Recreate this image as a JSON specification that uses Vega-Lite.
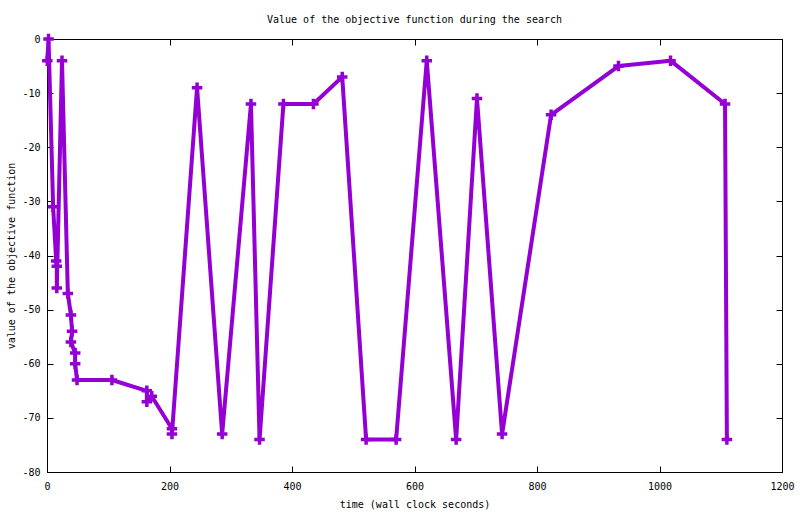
{
  "$schema": "https://vega.github.io/schema/vega-lite/v6.json",
  "width": 735,
  "height": 433,
  "autosize": {"type": "none"},
  "padding": {"left": 47, "top": 39, "right": 18, "bottom": 42},
  "background": "white",
  "title": {
    "text": "Value of the objective function during the search",
    "font": "DejaVu Sans Mono",
    "fontSize": 10,
    "fontWeight": "normal",
    "color": "black",
    "offset": 2
  },
  "data": {
    "values": [
      {"i": 1, "t": 0.5, "v": -4},
      {"i": 2, "t": 2.5, "v": 0},
      {"i": 3, "t": 10, "v": -31},
      {"i": 4, "t": 15, "v": -41},
      {"i": 5, "t": 16, "v": -42},
      {"i": 6, "t": 16, "v": -46},
      {"i": 7, "t": 24.5, "v": -4},
      {"i": 8, "t": 34, "v": -47},
      {"i": 9, "t": 39, "v": -51},
      {"i": 10, "t": 41, "v": -54},
      {"i": 11, "t": 39, "v": -56},
      {"i": 12, "t": 46, "v": -58},
      {"i": 13, "t": 46, "v": -60},
      {"i": 14, "t": 49, "v": -63},
      {"i": 15, "t": 106, "v": -63},
      {"i": 16, "t": 163, "v": -65},
      {"i": 17, "t": 163, "v": -67},
      {"i": 18, "t": 171, "v": -66},
      {"i": 19, "t": 204, "v": -72},
      {"i": 20, "t": 204, "v": -73},
      {"i": 21, "t": 245, "v": -9},
      {"i": 22, "t": 286, "v": -73},
      {"i": 23, "t": 333, "v": -12},
      {"i": 24, "t": 347, "v": -74},
      {"i": 25, "t": 386, "v": -12},
      {"i": 26, "t": 435, "v": -12},
      {"i": 27, "t": 482, "v": -7},
      {"i": 28, "t": 521, "v": -74},
      {"i": 29, "t": 570, "v": -74},
      {"i": 30, "t": 620, "v": -4},
      {"i": 31, "t": 668, "v": -74},
      {"i": 32, "t": 702, "v": -11},
      {"i": 33, "t": 743, "v": -73},
      {"i": 34, "t": 823, "v": -14},
      {"i": 35, "t": 933, "v": -5},
      {"i": 36, "t": 1018, "v": -4},
      {"i": 37, "t": 1107, "v": -12},
      {"i": 38, "t": 1110, "v": -74}
    ]
  },
  "layer": [
    {
      "mark": {"type": "line", "color": "#9400d3", "strokeWidth": 4, "strokeJoin": "round"},
      "encoding": {
        "x": {
          "field": "t",
          "type": "quantitative",
          "scale": {"domain": [0, 1200], "nice": false, "zero": false},
          "axis": {
            "orient": "bottom",
            "values": [0, 200, 400, 600, 800, 1000, 1200],
            "title": "time (wall clock seconds)",
            "labelPadding": 15,
            "titlePadding": 8
          }
        },
        "y": {
          "field": "v",
          "type": "quantitative",
          "scale": {"domain": [-80, 0], "nice": false, "zero": false},
          "axis": {
            "orient": "left",
            "values": [0, -10, -20, -30, -40, -50, -60, -70, -80],
            "title": "value of the objective function",
            "labelPadding": 13,
            "titlePadding": 5
          }
        },
        "order": {"field": "i", "type": "quantitative"}
      }
    },
    {
      "mark": {
        "type": "point",
        "shape": "M-1,0L1,0M0,-1L0,1",
        "filled": false,
        "stroke": "#9400d3",
        "strokeWidth": 3.5,
        "size": 110,
        "opacity": 1
      },
      "encoding": {
        "x": {
          "field": "t",
          "type": "quantitative",
          "axis": {
            "orient": "top",
            "values": [0, 200, 400, 600, 800, 1000, 1200],
            "labels": false,
            "title": null
          }
        },
        "y": {
          "field": "v",
          "type": "quantitative",
          "axis": {
            "orient": "right",
            "values": [0, -10, -20, -30, -40, -50, -60, -70, -80],
            "labels": false,
            "title": null
          }
        }
      }
    }
  ],
  "resolve": {"axis": {"x": "independent", "y": "independent"}},
  "config": {
    "view": {"stroke": "black", "strokeWidth": 1},
    "axis": {
      "grid": false,
      "domain": true,
      "domainColor": "black",
      "tickColor": "black",
      "tickSize": -6,
      "labelFlush": false,
      "labelOverlap": false,
      "labelFont": "DejaVu Sans Mono",
      "labelFontSize": 10,
      "labelColor": "black",
      "labelExpr": "'' + datum.value",
      "titleFont": "DejaVu Sans Mono",
      "titleFontSize": 10,
      "titleFontWeight": "normal",
      "titleColor": "black"
    }
  }
}
